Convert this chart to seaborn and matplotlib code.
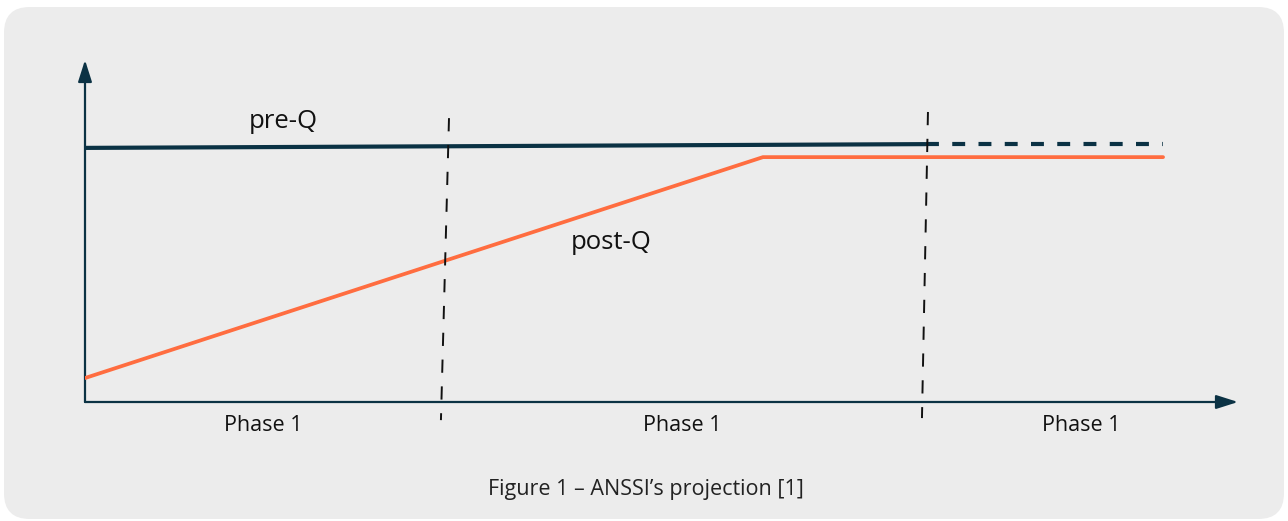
import matplotlib
matplotlib.use("Agg")
import matplotlib.pyplot as plt
import seaborn as sns
import pandas as pd
from matplotlib.patches import FancyBboxPatch

# ---- data (arbitrary units: x 0..10, y 0..10) ----
pre_x_solid = [0.0, 7.29]
pre_y_solid = [7.43, 7.54]
pre_x_dash = [7.29, 9.35]
pre_y_dash = [7.54, 7.54]
post_x = [0.0, 5.88, 9.35]
post_y = [0.70, 7.16, 7.16]
div1_x = [3.157, 3.087]
div1_y = [8.30, -0.53]
div2_x = [7.311, 7.259]
div2_y = [8.48, -0.47]
phase_labels = ["Phase 1", "Phase 1", "Phase 1"]
phase_x = [1.55, 5.18, 8.64]
series_labels = ["pre-Q", "post-Q"]
series_label_x = [1.72, 4.56]
series_label_y = [8.19, 4.65]
caption = "Figure 1 – ANSSI’s projection [1]"

DARK = "#0b3244"
ORANGE = "#ff6d40"
BG = "#ececec"

sns.set_theme(style="white")
plt.rcParams['font.family'] = ['Open Sans', 'DejaVu Sans']

W, H = 1288, 521
fig = plt.figure(figsize=(W / 100, H / 100), dpi=100)
fig.patch.set_facecolor("white")
bg = FancyBboxPatch((4 / W, 2 / H), (1284 - 4) / W, (519 - 7) / H,
                    boxstyle="round,pad=0,rounding_size=0.02",
                    transform=fig.transFigure, facecolor=BG, edgecolor="none",
                    mutation_aspect=W / H, zorder=-5)
fig.patches.append(bg)

ax = fig.add_axes([85 / W, (H - 402) / H, 1153 / W, 342 / H])
ax.set_facecolor("none")
ax.set_zorder(2)
ax.set_xlim(0, 10)
ax.set_ylim(0, 10)
for s in ax.spines.values():
    s.set_visible(False)
ax.set_xticks([])
ax.set_yticks([])

# series
pre_solid = pd.DataFrame({"x": pre_x_solid, "y": pre_y_solid})
pre_dash = pd.DataFrame({"x": pre_x_dash, "y": pre_y_dash})
post = pd.DataFrame({"x": post_x, "y": post_y})
sns.lineplot(data=pre_solid, x="x", y="y", ax=ax, color=DARK, lw=3.0, zorder=4)
sns.lineplot(data=pre_dash, x="x", y="y", ax=ax, color=DARK, lw=3.0, zorder=4)
ax.lines[-1].set_dashes((3.1, 3.2))
ax.lines[-1].set_dash_capstyle("butt")
sns.lineplot(data=post, x="x", y="y", ax=ax, color=ORANGE, lw=2.7, zorder=4)
ax.set_xlabel("")
ax.set_ylabel("")
ax.set_xlim(0, 10)
ax.set_ylim(0, 10)

# phase dividers
for dx, dy in [(div1_x, div1_y), (div2_x, div2_y)]:
    ax.plot(dx, dy, color="#111111", lw=1.4, dashes=(6.8, 7.0), clip_on=False, zorder=5)

# axes arrows
ax.annotate("", xy=(0, 1), xytext=(0, 0), xycoords="axes fraction",
            arrowprops=dict(arrowstyle="-|>,head_width=0.35,head_length=1.1",
                            color=DARK, lw=1.6, shrinkA=0, shrinkB=0))
ax.annotate("", xy=(1, 0), xytext=(0, 0), xycoords="axes fraction",
            arrowprops=dict(arrowstyle="-|>,head_width=0.35,head_length=1.1",
                            color=DARK, lw=1.6, shrinkA=0, shrinkB=0))

for lab, lx, ly in zip(series_labels, series_label_x, series_label_y):
    ax.text(lx, ly, lab, ha="center", va="center", fontsize=18.5, color="#111111")

for lab, px in zip(phase_labels, phase_x):
    ax.text(px, -0.7, lab, ha="center", va="center", fontsize=15.5, color="#111111")

fig.text(646 / W, 1 - 490 / H, caption, ha="center", va="center",
         fontsize=15.5, color="#222222")

fig.savefig("out.png", dpi=100)
